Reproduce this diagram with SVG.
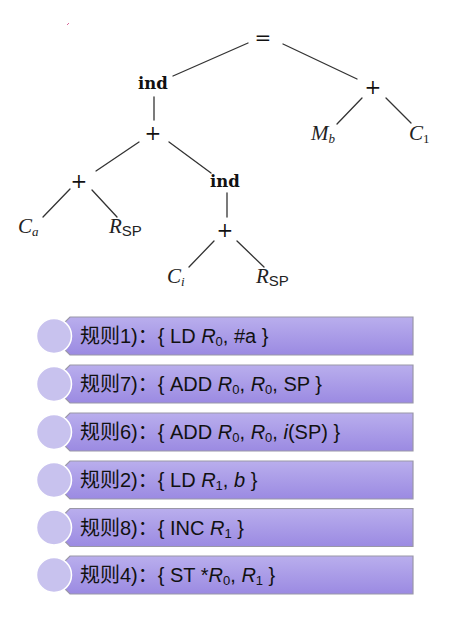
<svg xmlns="http://www.w3.org/2000/svg" width="455" height="623" viewBox="0 0 455 623">
<defs>
<linearGradient id="bg" x1="0" y1="0" x2="0" y2="1">
<stop offset="0" stop-color="#b9aeed"/>
<stop offset="1" stop-color="#9b8ae2"/>
</linearGradient>
<style>
.e{stroke:#333;stroke-width:1.3;fill:none;stroke-linecap:round}
.op{font-family:"DejaVu Serif","Liberation Serif",serif;font-size:20px;fill:#111;text-anchor:middle}
.b{font-family:"DejaVu Serif","Liberation Serif",serif;font-weight:bold;font-size:16.5px;fill:#111;text-anchor:middle}
.m{font-family:"Liberation Serif",serif;font-style:italic;font-size:21px;fill:#222}
.ss{font-family:"Liberation Sans",sans-serif;font-style:normal;font-size:15px}
.sub{font-size:13px}
.box{fill:url(#bg);stroke:#9a97a8;stroke-width:1.2}
.cir{fill:#c8c2ee;stroke:#fff;stroke-width:1.5}
.t{font-family:"Liberation Sans","Noto Sans CJK SC",sans-serif;font-size:20px;fill:#111}
.i{font-style:italic}
.s{font-size:13px}
</style>
</defs>
<rect width="455" height="623" fill="#fff"/>
<line x1="67" y1="25" x2="69" y2="23" stroke="#d04080" stroke-width="0.8"/>
<g id="connectors">
<line class="e" x1="248" y1="43" x2="173" y2="76"/>
<line class="e" x1="283" y1="44" x2="357" y2="79"/>
<line class="e" x1="154" y1="97" x2="154" y2="120"/>
<line class="e" x1="139" y1="142" x2="96" y2="171"/>
<line class="e" x1="169" y1="142" x2="211" y2="173"/>
<line class="e" x1="70" y1="189" x2="43" y2="217"/>
<line class="e" x1="92" y1="190" x2="117" y2="217"/>
<line class="e" x1="227" y1="193" x2="227" y2="217"/>
<line class="e" x1="214" y1="241" x2="189" y2="267"/>
<line class="e" x1="237" y1="241" x2="264" y2="267"/>
<line class="e" x1="362" y1="98" x2="337" y2="124"/>
<line class="e" x1="386" y1="98" x2="411" y2="123"/>
</g>
<g id="n-eq"><text class="op" x="263" y="45">=</text></g>
<g id="n-ind1"><text class="b" x="153" y="89">ind</text></g>
<g id="n-plus-r"><text class="op" x="373" y="94">+</text></g>
<g id="n-plus1"><text class="op" x="153" y="140">+</text></g>
<g id="n-plus2"><text class="op" x="79" y="188">+</text></g>
<g id="n-ind2"><text class="b" x="225" y="187">ind</text></g>
<g id="n-ca"><text class="m" x="18" y="233">C<tspan class="sub" dy="3">a</tspan></text></g>
<g id="n-rsp1"><text class="m" x="109" y="233">R<tspan class="ss" dy="3">SP</tspan></text></g>
<g id="n-plus3"><text class="op" x="225" y="237">+</text></g>
<g id="n-ci"><text class="m" x="167" y="283">C<tspan class="sub" dy="3">i</tspan></text></g>
<g id="n-rsp2"><text class="m" x="256" y="283">R<tspan class="ss" dy="3">SP</tspan></text></g>
<g id="n-mb"><text class="m" x="311" y="140">M<tspan class="sub" dy="3">b</tspan></text></g>
<g id="n-c1"><text class="m" x="409" y="140">C<tspan class="sub" dy="3" font-style="normal">1</tspan></text></g>

<g id="r1">
<polygon class="box" points="70,317 413,317 413,355 70,355 63,348 63,324"/>
<circle class="cir" cx="54" cy="336" r="17.5"/>
<text class="t" x="80" y="343">规则1)：{ LD <tspan class="i">R</tspan><tspan class="s" dy="3">0</tspan><tspan dy="-3">, #a }</tspan></text>
</g>
<g id="r2">
<polygon class="box" points="70,365 413,365 413,403 70,403 63,396 63,372"/>
<circle class="cir" cx="54" cy="384" r="17.5"/>
<text class="t" x="80" y="391">规则7)：{ ADD <tspan class="i">R</tspan><tspan class="s" dy="3">0</tspan><tspan dy="-3">, </tspan><tspan class="i">R</tspan><tspan class="s" dy="3">0</tspan><tspan dy="-3">, SP }</tspan></text>
</g>
<g id="r3">
<polygon class="box" points="70,413 413,413 413,451 70,451 63,444 63,420"/>
<circle class="cir" cx="54" cy="432" r="17.5"/>
<text class="t" x="80" y="439">规则6)：{ ADD <tspan class="i">R</tspan><tspan class="s" dy="3">0</tspan><tspan dy="-3">, </tspan><tspan class="i">R</tspan><tspan class="s" dy="3">0</tspan><tspan dy="-3">, </tspan><tspan class="i">i</tspan>(SP) }</text>
</g>
<g id="r4">
<polygon class="box" points="70,461 413,461 413,499 70,499 63,492 63,468"/>
<circle class="cir" cx="54" cy="480" r="17.5"/>
<text class="t" x="80" y="487">规则2)：{ LD <tspan class="i">R</tspan><tspan class="s" dy="3">1</tspan><tspan dy="-3">, </tspan><tspan class="i">b</tspan> }</text>
</g>
<g id="r5">
<polygon class="box" points="70,508.5 413,508.5 413,546.5 70,546.5 63,539.5 63,515.5"/>
<circle class="cir" cx="54" cy="527.5" r="17.5"/>
<text class="t" x="80" y="534.5">规则8)：{ INC <tspan class="i">R</tspan><tspan class="s" dy="3">1</tspan><tspan dy="-3"> }</tspan></text>
</g>
<g id="r6">
<polygon class="box" points="70,556 413,556 413,594 70,594 63,587 63,563"/>
<circle class="cir" cx="54" cy="575" r="17.5"/>
<text class="t" x="80" y="582">规则4)：{ ST *<tspan class="i">R</tspan><tspan class="s" dy="3">0</tspan><tspan dy="-3">, </tspan><tspan class="i">R</tspan><tspan class="s" dy="3">1</tspan><tspan dy="-3"> }</tspan></text>
</g>
</svg>
